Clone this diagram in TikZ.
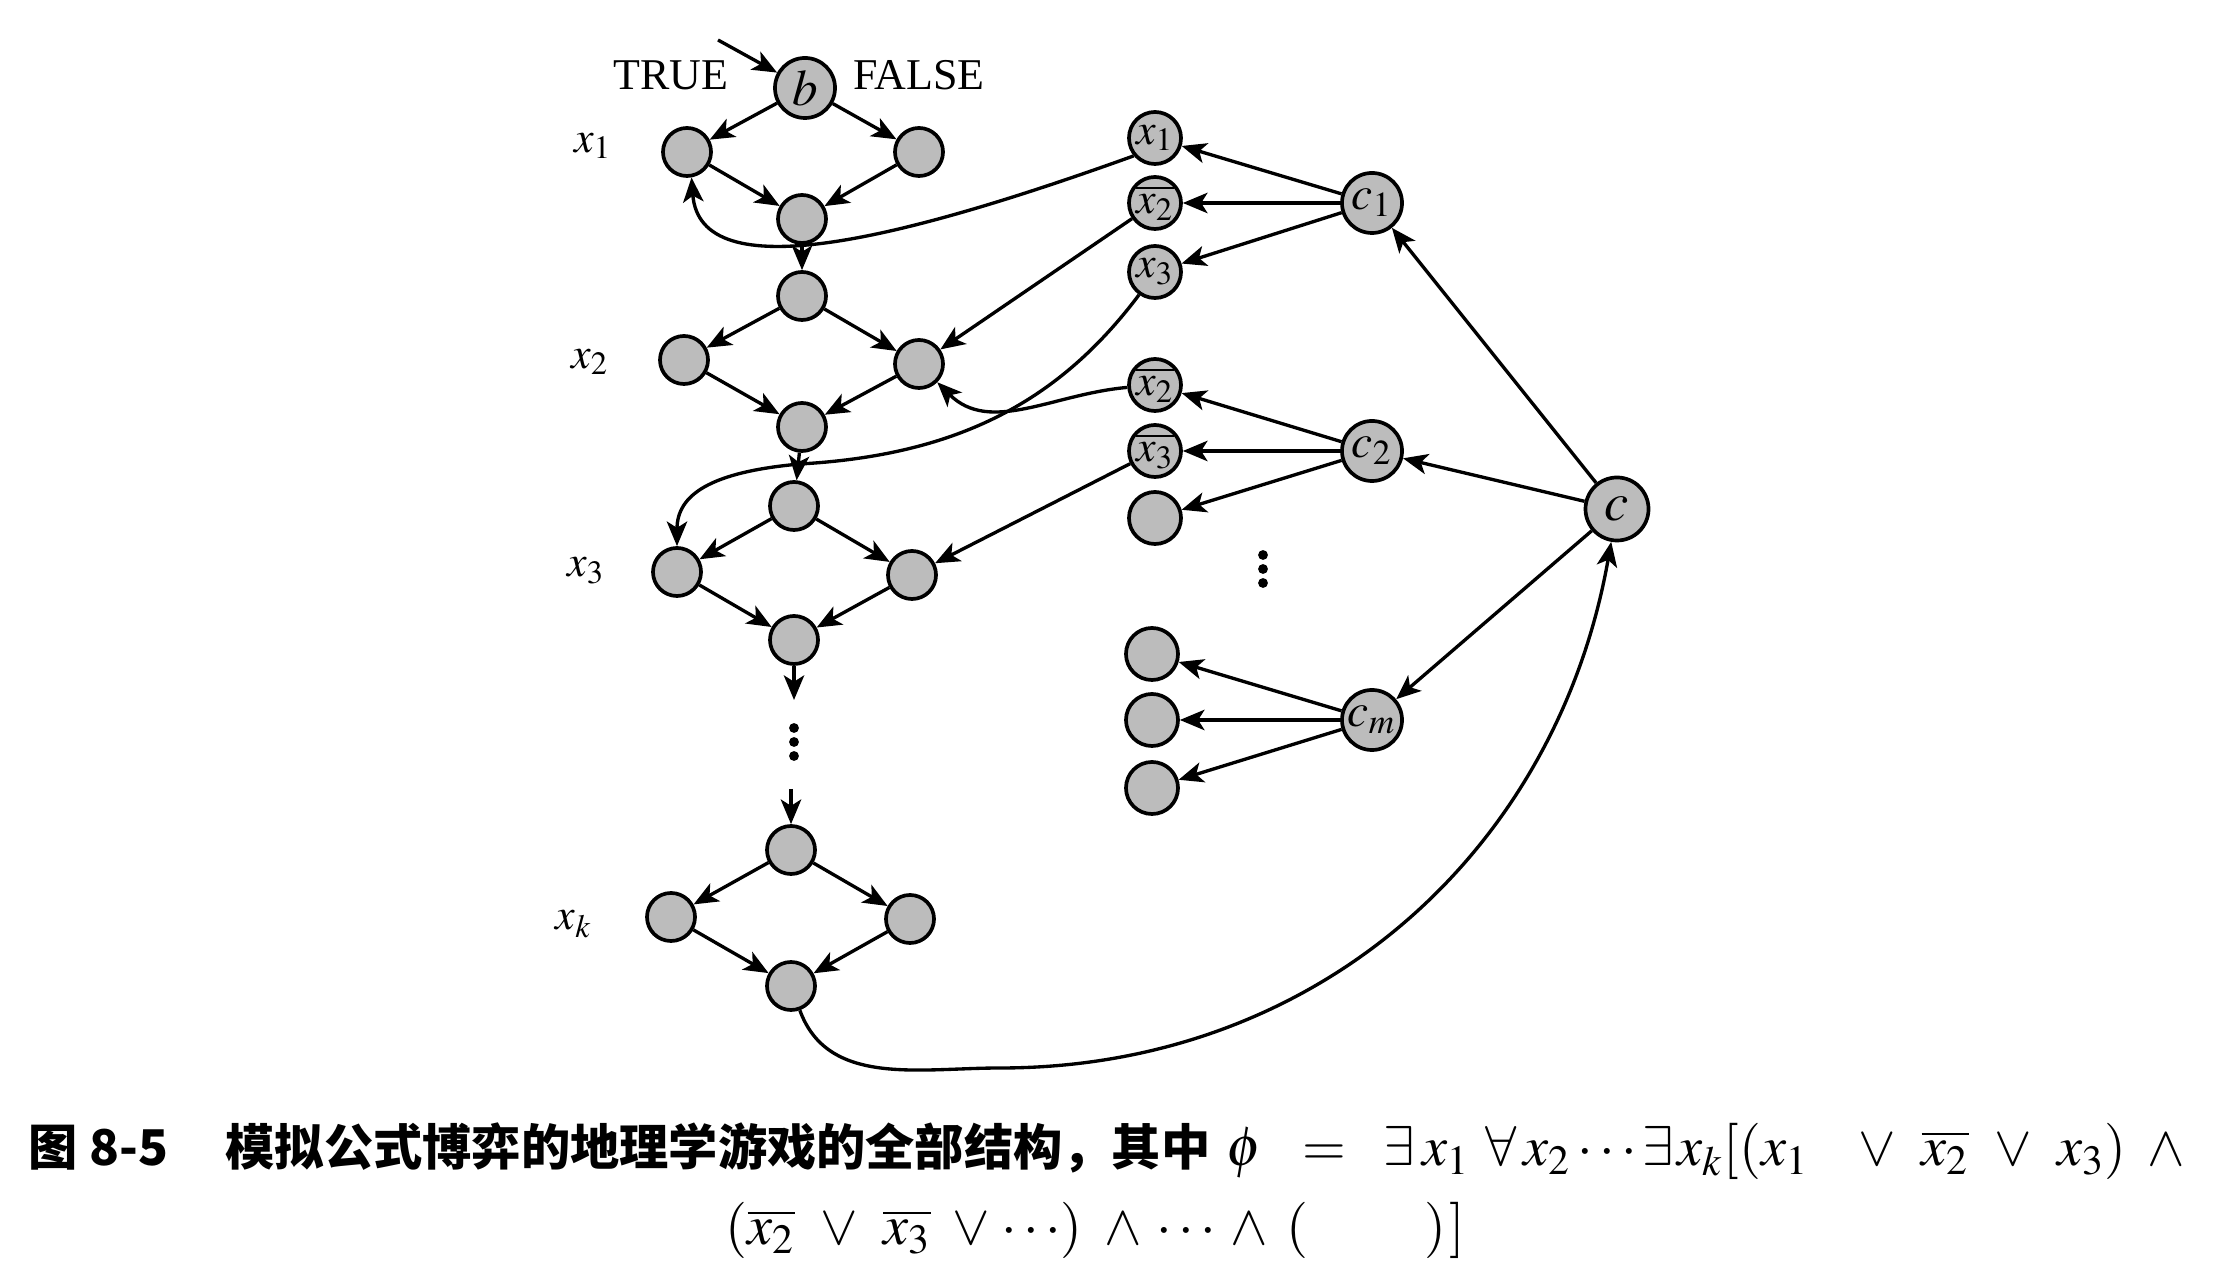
\documentclass[tikz,border=0pt]{standalone}
\usepackage{mathptmx}
\usepackage{fontspec}
\setmainfont{Liberation Serif}
\newfontfamily\cjk{Noto Sans CJK SC}
\usetikzlibrary{arrows.meta}
\definecolor{nodegray}{RGB}{188,188,188}
\tikzset{
  v/.style={circle, draw=black, line width=1.05pt, fill=nodegray, minimum size=0.48cm, inner sep=0pt},
  lit/.style={v, minimum size=0.52cm, font=\fontsize{12.5}{12.5}\selectfont},
  cls/.style={v, minimum size=0.60cm, font=\fontsize{13.5}{13.5}\selectfont},
  edge/.style={-{Stealth[length=7pt,width=5.8pt,inset=1.8pt]}, line width=0.95pt},
  lab/.style={font=\fontsize{12.5}{12.5}\selectfont, inner sep=0pt},
  captext/.style={font=\cjk\bfseries\fontsize{14}{14}\selectfont, inner sep=0pt, anchor=base west},
  capmath/.style={font=\fontsize{16}{16}\selectfont, inner sep=0pt, anchor=base west}
}
\begin{document}
\begin{tikzpicture}[x=0.01cm,y=-0.01cm]
\fill[white] (0,0) rectangle (2230,1280);
\useasboundingbox (0,0) rectangle (2230,1280);

% ---- left column ----
\node[v, minimum size=0.60cm, font=\fontsize{14.5}{14.5}\selectfont] (b) at (805,88) {$b$};
\node[lab] (true) at (671,75) {TRUE};
\node[lab] (false) at (919,75) {FALSE};
\coordinate (in) at (718,40);
\draw[edge] (in) -- (b);

\node[lab] (lab1) at (593,146) {$x_1$};
\node[lab] (lab2) at (590,362) {$x_2$};
\node[lab] (lab3) at (586,571) {$x_3$};
\node[lab] (labk) at (574,924) {$x_k$};

\node[v] (v1l) at (687,152) {};
\node[v] (v1r) at (919,152) {};
\node[v] (v1b) at (802,219) {};
\node[v] (v2t) at (802,296) {};
\node[v] (v2l) at (684,360) {};
\node[v] (v2r) at (919,364) {};
\node[v] (v2b) at (802,427) {};
\node[v] (v3t) at (794,506) {};
\node[v] (v3l) at (677,572) {};
\node[v] (v3r) at (912,575) {};
\node[v] (v3b) at (794,640) {};
\coordinate (s1) at (794,700);
\coordinate (s2) at (791,789);
\node[v] (vkt) at (791,850) {};
\node[v] (vkl) at (671,917) {};
\node[v] (vkr) at (910,919) {};
\node[v] (vkb) at (791,986) {};

\foreach \p in {728,742,756} \fill (794,\p) circle[radius=1.4pt];

\draw[edge] (b) -- (v1l);
\draw[edge] (b) -- (v1r);
\draw[edge] (v1l) -- (v1b);
\draw[edge] (v1r) -- (v1b);
\draw[edge] (v1b) -- (v2t);
\draw[edge] (v2t) -- (v2l);
\draw[edge] (v2t) -- (v2r);
\draw[edge] (v2l) -- (v2b);
\draw[edge] (v2r) -- (v2b);
\draw[edge] (v2b) -- (v3t);
\draw[edge] (v3t) -- (v3l);
\draw[edge] (v3t) -- (v3r);
\draw[edge] (v3l) -- (v3b);
\draw[edge] (v3r) -- (v3b);
\draw[edge] (v3b) -- (s1);
\draw[edge] (s2) -- (vkt);
\draw[edge] (vkt) -- (vkl);
\draw[edge] (vkt) -- (vkr);
\draw[edge] (vkl) -- (vkb);
\draw[edge] (vkr) -- (vkb);

% ---- right column ----
\node[lit] (w1) at (1155,138) {$x_1$};
\node[lit] (w2) at (1155,203) {$\overline{x_2}$};
\node[lit] (w3) at (1155,272) {$x_3$};
\node[lit] (w4) at (1155,385) {$\overline{x_2}$};
\node[lit] (w5) at (1155,451) {$\overline{x_3}$};
\node[lit] (w6) at (1155,518) {};
\node[lit] (w7) at (1152,654) {};
\node[lit] (w8) at (1152,720) {};
\node[lit] (w9) at (1152,788) {};
\foreach \p in {555,569,583} \fill (1263,\p) circle[radius=1.4pt];

\node[cls] (c1) at (1372,203) {$c_1$};
\node[cls] (c2) at (1372,451) {$c_2$};
\node[cls] (cm) at (1372,720) {$c_m$};
\node[cls, minimum size=0.63cm, font=\fontsize{15.5}{15.5}\selectfont] (c) at (1617,509) {$c$};

\draw[edge] (c1) -- (w1);
\draw[edge] (c1) -- (w2);
\draw[edge] (c1) -- (w3);
\draw[edge] (c2) -- (w4);
\draw[edge] (c2) -- (w5);
\draw[edge] (c2) -- (w6);
\draw[edge] (cm) -- (w7);
\draw[edge] (cm) -- (w8);
\draw[edge] (cm) -- (w9);
\draw[edge] (c) -- (c1);
\draw[edge] (c) -- (c2);
\draw[edge] (c) -- (cm);

% ---- cross links ----
\draw[edge] (w1.220) .. controls (900,240) and (700,290) .. (v1l.-80);
\draw[edge] (w2) -- (v2r);
\coordinate (m3) at (800,464);
\draw[edge] (w3.235) .. controls (1060,400) and (960,455) .. (m3) .. controls (710,472) and (677,495) .. (v3l.north);
\draw[edge] (w4) to[out=185, in=-45] (v2r);
\draw[edge] (w5) -- (v3r);
\coordinate (bot) at (1000,1068);
\draw[edge] (vkb) to[out=-70, in=180] (bot) to[out=0, in=-100] (c);

% ---- caption ----
\node[captext] (capA) at (28,1166) {图 8-5};
\node[captext] (capB) at (225,1166) {模拟公式博弈的地理学游戏的全部结构，其中};
\node[capmath] (capC) at (1226,1166) {$\phi\hspace{8pt}=\hspace{7pt}\exists\hspace{2pt}x_1\hspace{4.5pt}\forall\hspace{2pt}x_2\cdots\exists\hspace{1pt}x_k[(x_1\hspace{12pt}\vee\hspace{5pt}\overline{x_2}\hspace{5pt}\vee\hspace{5pt}x_3)\hspace{6pt}\wedge$};
\node[capmath] (capD) at (725,1245) {$(\overline{x_2}\hspace{5pt}\vee\hspace{5pt}\overline{x_3}\hspace{4pt}\vee\hspace{1pt}\cdots)\hspace{4pt}\wedge\hspace{2pt}\cdots\hspace{2pt}\wedge\hspace{3pt}(\hspace{33pt})\hspace{1pt}]$};
\end{tikzpicture}
\end{document}
